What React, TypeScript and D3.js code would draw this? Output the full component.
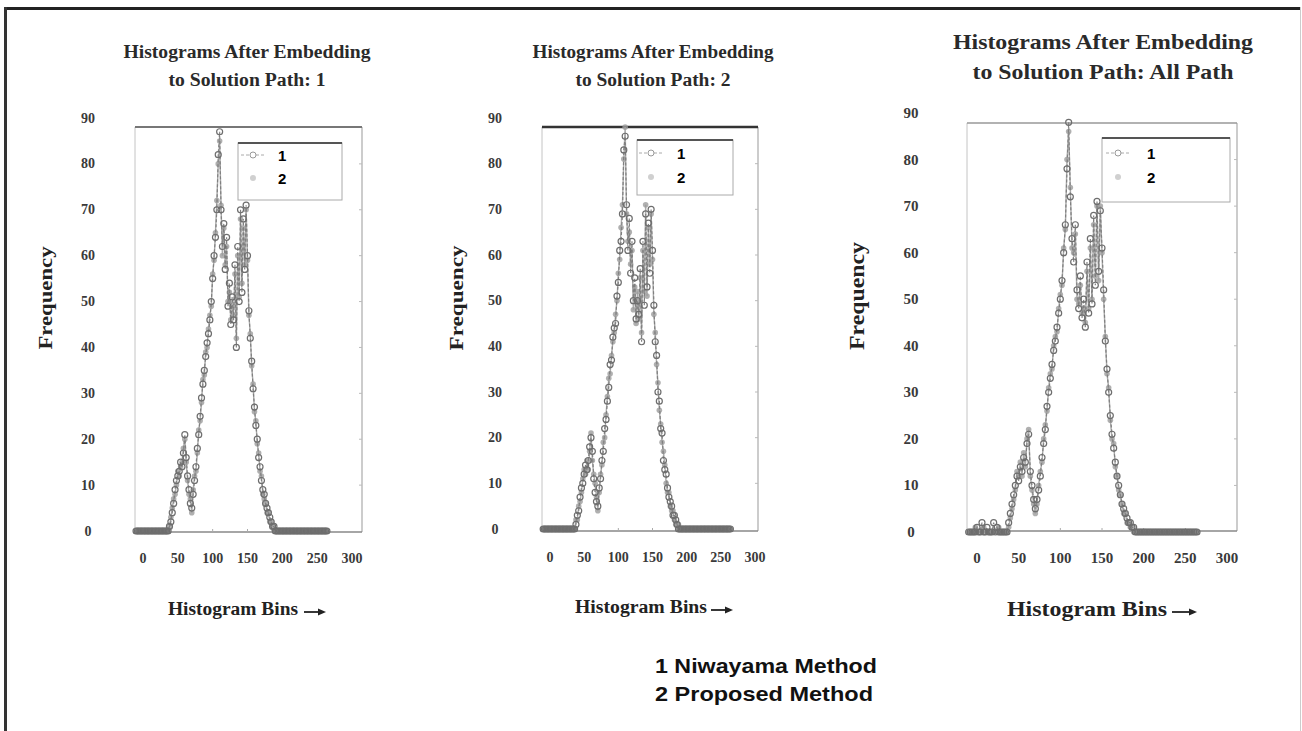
import React from 'react'
import * as d3 from 'd3'

// histogram bins (x categories), every second bin
const bins = d3.range(-10, 266, 2)
const xTicks = [0, 50, 100, 150, 200, 250, 300]
const yTicks = [0, 10, 20, 30, 40, 50, 60, 70, 80, 90]
const legendLabels = ['1', '2']
const methodNotes = ['1 Niwayama Method', '2 Proposed Method']
const panelTitles = [
  ['Histograms After Embedding', 'to Solution Path: 1'],
  ['Histograms After Embedding', 'to Solution Path: 2'],
  ['Histograms After Embedding', 'to Solution Path: All Path'],
]

// flat (empty) bins at both ends
const flatHead = [0, 0, 0, 0, 0, 0, 0, 0, 0, 0, 0, 0, 0, 0, 0, 0, 0, 0, 0, 0, 0, 0, 0]
const flatTail = [0, 0, 0, 0, 0, 0, 0, 0, 0, 0, 0, 0, 0, 0, 0, 0, 0, 0, 0, 0, 0, 0, 0, 0, 0, 0, 0, 0, 0, 0, 0, 0, 0, 0, 0, 0, 0]

const path1Niwayama = [
  ...flatHead,
  0, 1, 2, 4, 6, 9, 11, 12, 13, 15,
  14, 17, 21, 16, 12, 9, 6, 5, 8, 11,
  14, 18, 21, 25, 29, 32, 35, 38, 41, 43,
  46, 50, 55, 60, 64, 70, 82, 87, 70, 62,
  67, 57, 64, 49, 54, 45, 51, 46, 58, 40,
  62, 50, 70, 52, 68, 57, 71, 60, 48, 42,
  37, 31, 27, 23, 20, 16, 14, 11, 9, 8,
  6, 5, 4, 3, 2, 1, 1, 0,
  ...flatTail,
]
const path1Proposed = [
  ...flatHead,
  0, 1, 3, 5, 7, 8, 10, 13, 12, 14,
  15, 18, 20, 15, 11, 8, 7, 4, 9, 12,
  13, 17, 22, 24, 28, 33, 34, 39, 40, 44,
  47, 49, 56, 59, 65, 72, 80, 85, 71, 60,
  66, 58, 62, 50, 52, 46, 49, 47, 56, 42,
  60, 51, 68, 54, 66, 58, 70, 59, 47, 43,
  36, 32, 26, 24, 19, 17, 13, 12, 8, 7,
  6, 4, 4, 2, 2, 1, 0, 0,
  ...flatTail,
]
const path2Niwayama = [
  ...flatHead,
  0, 1, 3, 4, 7, 9, 10, 12, 14, 13,
  15, 18, 20, 17, 11, 8, 6, 5, 9, 11,
  15, 17, 22, 24, 28, 31, 36, 37, 42, 44,
  45, 51, 54, 61, 63, 69, 83, 86, 71, 61,
  68, 56, 63, 50, 55, 46, 50, 47, 57, 41,
  63, 49, 69, 53, 67, 56, 70, 61, 49, 41,
  38, 30, 28, 22, 21, 15, 13, 12, 9, 7,
  6, 5, 3, 3, 2, 1, 0, 0,
  ...flatTail,
]
const path2Proposed = [
  ...flatHead,
  0, 2, 2, 5, 6, 8, 11, 13, 12, 15,
  13, 17, 21, 15, 12, 10, 7, 4, 8, 12,
  14, 19, 20, 25, 29, 33, 34, 38, 41, 43,
  47, 50, 56, 59, 66, 71, 81, 88, 69, 63,
  65, 58, 61, 48, 53, 45, 52, 46, 55, 43,
  61, 52, 71, 51, 66, 58, 69, 59, 47, 43,
  36, 32, 26, 23, 19, 17, 14, 10, 8, 8,
  5, 4, 4, 2, 1, 1, 1, 0,
  ...flatTail,
]
const allPathNiwayama = [
  0, 0, 0, 0, 0, 1, 0, 0, 2, 0, 0, 1, 0, 0, 0, 2, 0, 1, 0, 0, 0, 0, 0,
  0, 2, 4, 6, 8, 10, 12, 11, 14, 13,
  16, 15, 19, 21, 13, 10, 7, 5, 7, 9,
  12, 16, 19, 22, 27, 30, 33, 36, 39, 41,
  44, 47, 50, 54, 60, 66, 78, 88, 72, 63,
  58, 66, 52, 48, 55, 46, 50, 44, 58, 47,
  63, 49, 68, 53, 71, 56, 69, 61, 52, 41,
  35, 30, 25, 21, 18, 15, 12, 10, 8, 6,
  5, 4, 3, 2, 2, 1, 1, 0,
  ...flatTail,
]
const allPathProposed = [
  0, 0, 0, 0, 1, 0, 0, 0, 0, 1, 0, 0, 0, 0, 0, 0, 0, 0, 1, 0, 0, 0, 0,
  0, 1, 3, 5, 7, 9, 13, 12, 15, 12,
  17, 14, 20, 22, 12, 9, 6, 4, 6, 10,
  13, 15, 20, 23, 26, 31, 34, 35, 40, 42,
  43, 48, 51, 53, 61, 65, 80, 86, 74, 61,
  60, 64, 50, 49, 53, 47, 48, 45, 56, 48,
  61, 50, 66, 55, 70, 54, 70, 60, 50, 42,
  34, 31, 24, 20, 19, 14, 12, 9, 8, 6,
  4, 4, 2, 2, 1, 1, 0, 0,
  ...flatTail,
]

const SERIF = '"Liberation Serif", "Times New Roman", serif'
const SANS = '"Liberation Sans", Arial, sans-serif'

const layouts = [
  {
    box: [135, 362, 127, 532], xRange: [143, 352], yRange: [531, 118],
    yLabelX: 88, xLabelY: 558, tickSize: 14, topStroke: '#777', topWidth: 2,
    title: { cx: 247, y: [52, 80], len: [247, 157], size: 18 },
    freq: { x: 45, cy: 298, len: 103, size: 19 },
    bins: { x: 168, y: 609, len: 130, size: 18, arrow: [304, 326] },
    legend: { box: [238, 342, 143, 200], textX: 278, rows: [155, 178], markX: 253 },
  },
  {
    box: [542, 758, 127, 531], xRange: [550, 755], yRange: [529, 118],
    yLabelX: 495, xLabelY: 557, tickSize: 14, topStroke: '#333', topWidth: 2.5,
    title: { cx: 653, y: [52, 80], len: [241, 155], size: 18 },
    freq: { x: 456, cy: 298, len: 105, size: 19 },
    bins: { x: 575, y: 607, len: 132, size: 18, arrow: [711, 733] },
    legend: { box: [637, 733, 140, 195], textX: 677, rows: [153, 177], markX: 651 },
  },
  {
    box: [967, 1237, 123, 531], xRange: [977, 1227], yRange: [532, 113],
    yLabelX: 911, xLabelY: 558, tickSize: 15, topStroke: '#999', topWidth: 1.5,
    title: { cx: 1103, y: [42, 72], len: [300, 261], size: 21 },
    freq: { x: 857, cy: 296, len: 108, size: 20 },
    bins: { x: 1007, y: 609, len: 160, size: 21, arrow: [1172, 1197] },
    legend: { box: [1102, 1230, 138, 202], textX: 1147, rows: [153, 177], markX: 1118 },
  },
]

const panelSeries = [
  [path1Niwayama, path1Proposed],
  [path2Niwayama, path2Proposed],
  [allPathNiwayama, allPathProposed],
]

function Panel({ layout, title, series }: any) {
  const [bx0, bx1, by0, by1] = layout.box
  const x = d3.scaleLinear().domain([0, 300]).range(layout.xRange)
  const y = d3.scaleLinear().domain([0, 90]).range(layout.yRange)
  const line = d3.line<number>().x((_, i) => x(bins[i])).y(d => y(d))
  const [niwayama, proposed] = series
  const lg = layout.legend
  const [lx0, lx1, ly0, ly1] = lg.box

  return (
    <g>
      {/* titles */}
      {title.map((t: string, i: number) => (
        <text key={i} x={layout.title.cx} y={layout.title.y[i]} textAnchor="middle" dominantBaseline="central"
          fontFamily={SERIF} fontWeight="bold" fontSize={layout.title.size} fill="#2a2a2a"
          textLength={layout.title.len[i]} lengthAdjust="spacingAndGlyphs">{t}</text>
      ))}

      {/* box */}
      <line x1={bx0} x2={bx0} y1={by0} y2={by1} stroke="#c4c4c4" strokeWidth={1} />
      <line x1={bx1} x2={bx1} y1={by0} y2={by1} stroke="#aaa" strokeWidth={1.2} />
      <line x1={bx0} x2={bx1} y1={by0} y2={by0} stroke={layout.topStroke} strokeWidth={layout.topWidth} />
      <line x1={bx0} x2={bx1} y1={by1} y2={by1} stroke="#888" strokeWidth={1.5} />

      {/* faint ticks */}
      {yTicks.slice(1, -1).map(t => (
        <line key={'r' + t} x1={bx1 - 3} x2={bx1} y1={y(t)} y2={y(t)} stroke="#bbb" />
      ))}
      {xTicks.slice(2, -1).map(t => (
        <line key={'b' + t} x1={x(t)} x2={x(t)} y1={by1 - 3} y2={by1} stroke="#aaa" />
      ))}

      {/* y tick labels */}
      {yTicks.map(t => (
        <text key={'y' + t} x={layout.yLabelX} y={y(t)} textAnchor="middle" dominantBaseline="central"
          fontFamily={SERIF} fontWeight="bold" fontSize={layout.tickSize} fill="#3a3a3a">{t}</text>
      ))}
      {/* x tick labels */}
      {xTicks.map(t => (
        <text key={'x' + t} x={x(t)} y={layout.xLabelY} textAnchor="middle" dominantBaseline="central"
          fontFamily={SERIF} fontWeight="bold" fontSize={layout.tickSize} fill="#3a3a3a">{t}</text>
      ))}

      {/* data: proposed (light) under niwayama */}
      <g filter="url(#scan)">
        <path d={line(proposed) || ''} fill="none" stroke="#aaa" strokeWidth={1.4} />
        {proposed.map((v: number, i: number) => (
          <circle key={'p' + i} cx={x(bins[i])} cy={y(v)} r={2.8} fill="#9c9c9c" fillOpacity={0.8} />
        ))}
        <path d={line(niwayama) || ''} fill="none" stroke="#808080" strokeWidth={1.2} strokeDasharray="3,2" />
        {niwayama.map((v: number, i: number) => (
          <circle key={'n' + i} cx={x(bins[i])} cy={y(v)} r={3} fill="none" stroke="#6e6e6e" strokeWidth={1.2} />
        ))}
      </g>

      {/* legend */}
      <rect x={lx0} y={ly0} width={lx1 - lx0} height={ly1 - ly0} fill="#fff" stroke="#aaa" strokeWidth={1} />
      <line x1={lx0} x2={lx1} y1={ly0} y2={ly0} stroke="#555" strokeWidth={2} />
      <line x1={lg.markX - 12} x2={lg.markX + 12} y1={lg.rows[0]} y2={lg.rows[0]} stroke="#aaa" strokeDasharray="3,2" />
      <circle cx={lg.markX} cy={lg.rows[0]} r={3} fill="#fff" stroke="#999" />
      <circle cx={lg.markX} cy={lg.rows[1]} r={3} fill="#d0d0d0" />
      {legendLabels.map((l, i) => (
        <text key={l} x={lg.textX} y={lg.rows[i]} dominantBaseline="central" fontFamily={SANS}
          fontWeight="bold" fontSize={15} fill="#000">{l}</text>
      ))}

      {/* axis titles */}
      <text transform={`translate(${layout.freq.x},${layout.freq.cy}) rotate(-90)`} textAnchor="middle"
        dominantBaseline="central" fontFamily={SERIF} fontWeight="bold" fontSize={layout.freq.size} fill="#222"
        textLength={layout.freq.len} lengthAdjust="spacingAndGlyphs">Frequency</text>
      <text x={layout.bins.x} y={layout.bins.y} dominantBaseline="central" fontFamily={SERIF} fontWeight="bold"
        fontSize={layout.bins.size} fill="#222" textLength={layout.bins.len} lengthAdjust="spacingAndGlyphs">Histogram Bins</text>
      <line x1={layout.bins.arrow[0]} x2={layout.bins.arrow[1] - 6} y1={layout.bins.y + 3} y2={layout.bins.y + 3}
        stroke="#222" strokeWidth={1.8} />
      <path d={`M${layout.bins.arrow[1]},${layout.bins.y + 3} l-8,-3.5 l0,7 z`} fill="#222" />
    </g>
  )
}

export default function App() {
  return (
    <svg width={1302} height={731} style={{ position: 'absolute', left: 0, top: 0, background: '#fff' }}>
      <defs>
        <filter id="scan" x="-5%" y="-5%" width="110%" height="110%">
          <feGaussianBlur stdDeviation="0.5" />
        </filter>
      </defs>
      <rect x={0} y={0} width={1302} height={731} fill="#fff" />
      {/* outer frame */}
      <line x1={4} x2={1300} y1={8.5} y2={8.5} stroke="#222" strokeWidth={3} />
      <line x1={5.5} x2={5.5} y1={7} y2={731} stroke="#333" strokeWidth={3} />
      <line x1={1300.5} x2={1300.5} y1={7} y2={731} stroke="#ccc" strokeWidth={1} />

      {layouts.map((l, i) => (
        <Panel key={i} layout={l} title={panelTitles[i]} series={panelSeries[i]} />
      ))}

      {methodNotes.map((m, i) => (
        <text key={m} x={655} y={673 + i * 28} fontFamily={SANS} fontWeight="bold" fontSize={21} fill="#111"
          textLength={222 - i * 4} lengthAdjust="spacingAndGlyphs">{m}</text>
      ))}
    </svg>
  )
}
